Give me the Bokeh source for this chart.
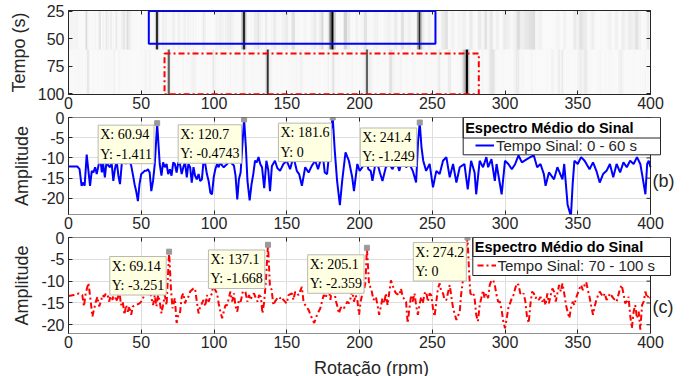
import numpy as np
from bokeh.plotting import figure
from bokeh.models import (Range1d, LinearAxis, FixedTicker, Label, Legend, LegendItem,
                          BoxAnnotation, ColumnDataSource)
from bokeh.layouts import column
from bokeh.embed import file_html
from bokeh.resources import INLINE

# ---------------- data ----------------
x_ticks = [0, 50, 100, 150, 200, 250, 300, 350, 400]
amp_ticks = [0, -5, -10, -15, -20]
time_ticks = [25, 50, 75, 100]

rpm_b = [0.0, 6.0, 7.6, 9.0, 10.2, 11.1, 12.5, 13.7, 14.8, 16.0, 17.1, 18.3, 19.4, 20.6, 21.8, 22.9,
         23.8, 25.0, 26.2, 27.3, 28.5, 29.6, 30.8, 31.9, 33.1, 34.3, 35.4, 36.6, 38.4, 39.6, 40.7,
         41.9, 43.1, 44.2, 45.4, 46.5, 47.7, 48.8, 50.0, 51.2, 52.3, 53.5, 54.6, 55.8, 56.9, 58.1,
         59.3, 60.94, 62.7, 63.9, 65.0, 66.2, 67.4, 68.5, 69.7, 70.8, 72.0, 73.1, 74.3, 75.5, 76.6,
         77.8, 78.9, 80.1, 81.3, 82.4, 83.6, 84.7, 85.9, 87.0, 88.2, 89.4, 90.5, 91.7, 92.8, 94.0,
         95.1, 96.3, 97.5, 98.6, 99.8, 100.9, 102.1, 103.2, 104.4, 105.6, 106.7, 107.9, 109.0, 110.2,
         111.3, 112.5, 113.7, 114.8, 116.0, 117.1, 118.3, 119.4, 120.7, 121.9, 123.0, 124.5, 125.8,
         127.0, 128.2, 129.4, 130.6, 131.8, 133.0, 134.5, 136.0, 137.3, 138.5, 139.8, 141.9, 143.5,
         145.4, 147.7, 150.0, 152.3, 154.6, 156.9, 158.5, 160.4, 162.7, 165.0, 167.3, 169.6, 171.5,
         173.1, 174.7, 176.1, 177.7, 178.9, 180.0, 181.6, 183.0, 184.6, 186.5, 188.1, 190.4, 192.7,
         195.0, 196.2, 198.5, 200.1, 202.0, 204.3, 206.1, 207.7, 208.9, 210.7, 212.4, 214.0, 215.8,
         218.1, 220.4, 222.7, 225.1, 227.4, 229.7, 232.0, 234.3, 236.6, 238.9, 240.3, 241.4, 242.6,
         243.8, 245.8, 248.2, 250.5, 252.8, 255.1, 257.4, 259.7, 262.0, 264.3, 266.6, 268.9, 272.1,
         274.4, 276.7, 279.1, 280.2, 282.6, 284.9, 287.2, 288.4, 290.7, 293.0, 294.2, 297.7, 300.0,
         302.3, 304.7, 307.0, 309.3, 311.6, 315.1, 317.4, 319.8, 322.1, 324.4, 326.7, 327.9, 330.2,
         333.7, 336.0, 339.5, 340.7, 343.0, 345.3, 346.5, 347.7, 350.0, 352.3, 354.7, 358.1, 360.5,
         362.8, 365.1, 367.4, 369.8, 372.1, 374.4, 376.7, 379.1, 381.4, 383.7, 386.0, 388.4, 390.7,
         393.0, 394.2, 396.5, 397.7, 398.8, 400.0]
amp_b = [-12.1, -12.1, -12.8, -16.9, -16.1, -16.9, -9.2, -13.2, -16.9, -13.2, -13.6, -12.3, -14.0, -11.9,
         -9.8, -13.6, -11.5, -14.8, -10.7, -11.9, -12.3, -11.1, -15.7, -12.8, -10.7, -14.4, -16.5,
         -11.5, -10.3, -11.5, -9.4, -10.7, -11.9, -14.0, -16.5, -18.2, -20.7, -16.5, -14.0, -13.6,
         -13.2, -13.2, -12.8, -13.6, -18.2, -15.7, -11.5, -1.411, -11.5, -14.4, -11.1, -12.3, -11.5,
         -14.0, -12.8, -14.4, -11.1, -11.5, -13.6, -11.1, -11.5, -14.0, -12.3, -11.1, -14.8, -11.5,
         -12.3, -16.1, -12.3, -14.4, -15.3, -14.0, -15.7, -15.3, -10.7, -11.5, -14.0, -15.7, -18.6,
         -19.0, -14.8, -12.8, -11.5, -12.3, -11.1, -11.9, -12.3, -11.9, -11.5, -11.1, -10.7, -11.5,
         -11.9, -14.4, -20.3, -15.3, -13.6, -7.3, -0.4743, -7.3, -15.7, -20.5, -16.5, -14.0, -10.7,
         -11.1, -9.8, -11.5, -12.3, -17.5, -10.7, -13.0, -18.2, -12.0, -10.7, -12.5, -13.2, -11.5,
         -10.7, -12.8, -9.7, -13.2, -14.0, -16.9, -12.3, -13.6, -11.9, -10.7, -12.8, -10.7, -9.0,
         -13.6, -14.0, -9.8, -4.0, 0.0, -8.2, -15.7, -21.7, -15.7, -8.6, -10.7, -14.8, -18.2, -11.5,
         -13.2, -12.3, -9.8, -12.8, -13.2, -15.7, -11.9, -11.5, -13.6, -15.7, -12.3, -11.5, -12.8,
         -10.7, -13.2, -9.8, -12.3, -11.5, -13.2, -16.1, -5.7, -1.249, -7.3, -10.7, -13.2, -11.5,
         -17.3, -13.2, -14.0, -10.7, -9.8, -14.8, -11.5, -16.1, -12.3, -11.5, -17.8, -10.7, -13.6,
         -19.0, -10.7, -12.3, -9.8, -12.3, -10.3, -15.7, -11.5, -19.0, -10.7, -11.5, -12.8, -11.5,
         -9.4, -11.1, -10.3, -9.8, -9.4, -12.3, -11.5, -14.0, -16.9, -13.6, -15.3, -12.3, -15.3,
         -11.5, -21.5, -24.5, -16.5, -10.7, -11.5, -9.8, -10.7, -12.8, -11.1, -13.2, -16.1, -14.0,
         -13.2, -11.5, -14.8, -11.5, -13.6, -11.1, -12.3, -10.7, -11.5, -9.8, -11.5, -14.0, -19.0,
         -11.5, -10.7, -12.3]

rpm_c = [0.0, 3.7, 7.2, 9.5, 10.6, 11.8, 13.7, 15.3, 16.4, 18.8, 19.9, 21.1, 22.2, 23.4, 24.5, 25.7,
         26.9, 28.0, 29.2, 30.3, 31.5, 32.6, 33.8, 35.0, 36.1, 37.3, 38.4, 39.6, 40.7, 41.9, 43.1,
         44.2, 46.5, 48.8, 50.0, 51.2, 53.5, 54.6, 55.8, 58.1, 59.3, 60.4, 61.6, 62.7, 63.9, 65.0,
         66.2, 67.4, 69.14, 70.4, 71.5, 73.1, 74.3, 75.5, 76.6, 77.8, 78.9, 80.1, 81.3, 82.4, 83.6,
         85.9, 87.0, 88.2, 89.4, 90.5, 91.7, 92.8, 94.0, 95.1, 96.3, 97.5, 98.6, 99.8, 100.9, 102.1,
         103.2, 104.4, 105.6, 106.7, 107.9, 109.0, 110.2, 111.3, 112.5, 113.7, 114.8, 116.0, 117.1,
         118.3, 119.4, 120.6, 121.8, 122.9, 124.1, 125.2, 126.4, 127.5, 128.7, 129.9, 131.0, 132.2,
         133.3, 134.5, 135.6, 137.1, 138.4, 139.6, 140.8, 141.9, 144.2, 145.4, 146.5, 147.7, 148.8,
         150.0, 151.2, 153.5, 154.6, 155.8, 158.1, 160.4, 161.5, 162.7, 165.0, 167.3, 168.9, 170.8,
         173.1, 174.2, 175.4, 176.6, 177.7, 178.9, 180.0, 181.2, 182.3, 183.5, 184.6, 185.8, 187.0,
         188.1, 189.3, 190.4, 191.6, 192.7, 193.9, 195.0, 196.2, 197.3, 198.5, 199.7, 200.8, 202.0,
         203.1, 204.1, 205.1, 206.6, 208.0, 209.6, 211.2, 212.4, 213.5, 214.7, 215.8, 217.0, 218.1,
         219.3, 221.6, 223.9, 225.1, 227.4, 228.5, 229.7, 232.0, 233.1, 234.3, 235.5, 236.6, 237.8,
         238.9, 240.1, 241.2, 242.4, 243.5, 244.7, 245.8, 247.0, 248.2, 249.3, 250.5, 251.6, 252.8,
         253.9, 255.1, 256.2, 257.4, 258.5, 259.7, 262.0, 264.3, 266.6, 268.9, 269.8, 270.9, 272.1,
         274.2, 275.3, 276.2, 277.3, 278.2, 279.1, 280.2, 281.4, 282.6, 283.7, 284.9, 286.0, 287.2,
         288.4, 289.5, 290.7, 291.9, 293.0, 294.2, 295.3, 296.5, 297.7, 298.8, 300.0, 301.2, 302.3,
         304.7, 305.8, 307.0, 308.1, 309.3, 310.5, 311.6, 312.8, 314.0, 315.1, 316.3, 317.4, 318.6,
         319.8, 320.9, 322.1, 323.3, 324.4, 325.6, 326.7, 327.9, 329.1, 330.2, 331.4, 332.6, 333.7,
         334.9, 336.0, 337.2, 338.4, 339.5, 340.7, 341.9, 343.0, 344.2, 345.3, 346.5, 347.7, 348.8,
         351.2, 352.3, 353.5, 354.7, 355.8, 357.0, 358.1, 359.3, 360.5, 361.6, 362.8, 364.0, 365.1,
         367.4, 368.6, 369.8, 370.9, 372.1, 374.4, 376.7, 379.1, 380.2, 381.4, 382.6, 383.7, 384.9,
         386.0, 387.2, 388.4, 389.5, 390.7, 391.9, 393.0, 394.2, 395.3, 396.5, 397.7, 398.8, 400.0]
amp_c = [-13.4, -13.2, -12.8, -13.2, -15.8, -12.8, -10.4, -14.7, -18.1, -14.7, -13.6, -15.8, -14.7, -13.2,
         -13.6, -12.8, -13.2, -14.7, -12.8, -14.3, -11.7, -14.7, -13.9, -12.4, -15.5, -14.7, -17.7,
         -15.5, -17.0, -15.8, -17.7, -15.8, -15.5, -15.1, -14.7, -13.9, -12.1, -13.2, -12.1, -15.5,
         -13.2, -15.8, -13.2, -14.7, -17.4, -15.5, -13.2, -15.5, -3.251, -11.7, -16.2, -13.9, -19.6,
         -17.7, -17.4, -13.6, -12.8, -15.1, -13.9, -13.6, -12.4, -11.7, -11.7, -14.7, -17.4, -15.8,
         -15.1, -14.3, -15.8, -13.2, -14.7, -13.6, -12.8, -10.2, -12.1, -12.8, -15.1, -17.0, -18.5,
         -17.0, -15.5, -15.5, -13.9, -12.4, -14.7, -12.8, -15.8, -17.0, -14.3, -14.7, -13.2, -10.5,
         -12.8, -14.7, -13.2, -14.3, -13.2, -12.8, -13.9, -14.7, -13.2, -13.6, -17.4, -14.7, -10.2,
         -1.668, -10.9, -12.0, -15.5, -14.7, -13.6, -13.9, -13.6, -14.3, -14.7, -15.1, -13.2, -12.8,
         -14.3, -12.4, -13.2, -11.3, -14.7, -15.5, -16.6, -18.5, -19.6, -17.7, -16.2, -14.7, -13.2,
         -13.9, -12.8, -11.7, -14.3, -11.3, -9.8, -14.3, -15.5, -17.4, -16.2, -15.8, -16.2, -15.5,
         -14.7, -15.1, -13.9, -12.1, -14.7, -13.2, -14.3, -17.7, -14.7, -12.8, -12.1, -10.2, -2.359,
         -10.9, -11.7, -14.3, -13.6, -15.5, -17.7, -15.8, -13.9, -15.1, -12.8, -15.5, -9.8, -12.1,
         -12.8, -13.2, -11.7, -13.6, -14.7, -19.6, -16.2, -13.2, -14.7, -12.8, -15.5, -17.7, -15.5,
         -13.6, -15.1, -12.8, -12.4, -14.7, -12.8, -13.2, -16.2, -18.1, -14.7, -11.7, -10.5, -12.4,
         -12.8, -14.3, -14.3, -10.9, -16.2, -18.9, -17.0, -13.2, -10.2, -7.1, 0.0, -7.8, -12.8,
         -13.2, -12.8, -13.9, -17.7, -19.2, -15.5, -13.9, -12.1, -13.9, -12.8, -13.9, -10.9, -9.8,
         -9.8, -10.9, -13.2, -14.7, -14.7, -16.6, -19.2, -20.8, -18.5, -16.2, -13.9, -13.2, -11.7,
         -10.5, -10.9, -12.8, -13.2, -12.8, -14.7, -18.1, -19.6, -15.5, -12.4, -12.8, -13.9, -13.6,
         -14.3, -13.6, -14.7, -13.9, -15.5, -12.8, -15.1, -13.2, -11.7, -12.4, -14.7, -12.8, -10.9,
         -12.4, -10.5, -12.8, -15.5, -17.0, -18.5, -16.2, -14.7, -15.5, -13.9, -11.7, -10.9, -12.1,
         -10.9, -10.2, -12.1, -13.6, -15.8, -17.7, -15.8, -14.3, -13.2, -12.4, -13.6, -12.8, -14.3,
         -13.9, -12.8, -13.9, -14.7, -11.7, -10.9, -12.8, -15.1, -14.7, -13.6, -17.7, -20.8, -17.0,
         -15.5, -18.5, -17.0, -21.1, -15.5, -14.7, -12.4, -13.9, -13.2, -13.9]

tip_b_x = [60.94, 120.7, 181.6, 241.4]
tip_b_y = [-1.411, -0.4743, 0, -1.249]
tip_c_x = [69.14, 137.1, 205.1, 274.2]
tip_c_y = [-3.251, -1.668, -2.359, 0]

legend_title = "Espectro Médio do Sinal"
legend_b = "Tempo Sinal: 0 - 60 s"
legend_c = "Tempo Sinal: 70 - 100 s"

# ---------------- styling / layout ----------------
SANS = "Liberation Sans"
SERIF = "Liberation Serif"
AX = "#262626"
FW = 582            # width of the 0..400 rpm area in px
EXT = 24            # extra frame width (room for the legends past x = 400)
XMAX = 400.0
XPX = XMAX / FW     # rpm per pixel

tip_b_box = [(19.0, -1.4), (74.0, -1.3), (142.9, -0.9), (199.2, -2.1)]
tip_c_box = [(27.0, -3.9), (94.8, -2.4), (163.0, -3.5), (235.6, -0.7)]
# legend boxes in frame pixels: left, right, top, separator, bottom, glyph x
leg_box_b = (394.7, 592.0, 0.0, 20.5, 37.3, 407.0)
leg_box_c = (404.3, 602.0, 0.0, 19.0, 38.0, 408.5)


def style_axis(ax):
    ax.axis_line_color = AX
    ax.major_tick_line_color = AX
    ax.major_tick_in = 4
    ax.major_tick_out = 0
    ax.minor_tick_line_color = None
    ax.major_label_text_font = SANS
    ax.major_label_text_font_size = "16px"
    ax.major_label_text_color = AX
    ax.axis_label_text_font = SANS
    ax.axis_label_text_font_size = "18px"
    ax.axis_label_text_font_style = "normal"
    ax.axis_label_text_color = AX


def hidden_axis(ticks):
    return LinearAxis(ticker=FixedTicker(ticks=ticks), major_label_text_font_size="0px",
                      major_label_text_color=None, major_tick_in=4, major_tick_out=0,
                      major_label_standoff=0, minor_tick_line_color=None,
                      axis_line_color=AX, major_tick_line_color=AX)


def make_fig(fh, top, yr, yticks, extended):
    fw = FW + (EXT if extended else 0)
    p = figure(frame_width=fw, frame_height=fh, x_range=Range1d(0, XMAX * fw / FW), y_range=yr,
               output_backend="svg", toolbar_location=None,
               min_border_left=68, min_border_right=28 - (EXT if extended else 0) + 0,
               min_border_top=top, min_border_bottom=0,
               outline_line_color=None if extended else AX, outline_line_width=1,
               background_fill_color="white", border_fill_color="white")
    bx = p.below[0]
    ly = p.left[0]
    bx.ticker = FixedTicker(ticks=x_ticks)
    ly.ticker = FixedTicker(ticks=yticks)
    ly.major_label_overrides = {v: str(v) for v in yticks}
    style_axis(bx)
    style_axis(ly)
    bx.major_label_standoff = 2
    ly.major_label_standoff = 4
    ly.axis_label_standoff = 6
    top_ax = hidden_axis(x_ticks)
    p.add_layout(top_ax, "above")
    if extended:
        bx.axis_line_color = None
        top_ax.axis_line_color = None
        p.grid.grid_line_color = "#dedede"
        p.grid.grid_line_width = 1
        # white cover past x = 400 (hides grid there), then the axes box
        p.add_layout(BoxAnnotation(left=XMAX, fill_color="white", fill_alpha=1, line_color=None,
                                   level="underlay"))
        p.add_layout(BoxAnnotation(left=0, right=XMAX, bottom=yr.start, top=yr.end,
                                   fill_alpha=0, line_color=AX, line_alpha=1, line_width=1))
        n = len(yticks)
        p.segment(x0=[XMAX] * n, x1=[XMAX - 4 * XPX] * n, y0=yticks, y1=yticks,
                  line_color=AX, line_width=1)
    else:
        p.add_layout(hidden_axis(yticks), "right")
        p.grid.visible = False
    return p


def heat_rows(rpm, amp, t0, t1):
    r = np.asarray(rpm, float)
    a = np.asarray(amp, float)
    mids = (r[1:] + r[:-1]) / 2
    left = np.concatenate([[r[0]], mids])
    right = np.concatenate([mids, [r[-1]]])
    v = np.clip((a + 14.0) / 14.0, 0, 1) ** 2
    g = np.clip(255 * (1 - v) - 6, 0, 255).round().astype(int)
    colors = ["#%02x%02x%02x" % (k, k, k) for k in g]
    n = len(r)
    return dict(left=left, right=right, top=[t0] * n, bottom=[t1] * n, color=colors)


# ---- panel (a) ----
p1 = make_fig(84, 10, Range1d(100.5, 24.5), time_ticks, extended=False)
p1.left[0].axis_label = "Tempo (s)"
for rows in (heat_rows(rpm_b, amp_b, 24.5, 60.0), heat_rows(rpm_c, amp_c, 60.0, 100.5)):
    p1.quad(left="left", right="right", top="top", bottom="bottom", fill_color="color",
            line_color="color", line_width=0.3, source=ColumnDataSource(rows))
p1.add_layout(BoxAnnotation(left=55.2, right=252.2, top=25.0, bottom=54.5, fill_alpha=0,
                            line_color="#0000ff", line_alpha=1, line_width=2))
p1.add_layout(BoxAnnotation(left=66.0, right=282.0, top=63.5, bottom=100.2, fill_alpha=0,
                            line_color="#ff0000", line_alpha=1, line_width=2, line_dash="6 3 2 3"))
p1.add_layout(Label(x=400, y=53.3, x_offset=2, text="(a)", text_font=SANS, text_font_size="18px",
                    text_baseline="middle", text_color=AX))


def spectrum_panel(p, yr, rpm, amp, tx, ty, boxes, color, dash, leg_label, lb, side_y, side_txt):
    fh = p.frame_height
    ypx = (yr.end - yr.start) / fh
    r = p.line(rpm, amp, line_color=color, line_width=2, line_dash=dash)
    p.scatter(tx, ty, marker="square", size=5, color="#9a9a9a")
    for (bx, by), x, y in zip(boxes, tx, ty):
        p.add_layout(Label(x=bx, y=by, x_offset=2, y_offset=-2, text=f"X: {x:g}\nY: {y:g}",
                           text_font=SERIF, text_font_size="14px", text_color="black",
                           text_align="left", text_baseline="top", text_line_height=1.3,
                           background_fill_color="#ffffe1", border_line_color="#b8b8b8",
                           padding=2))
    left, right, top, sep, bottom, gx = lb
    X = lambda px: px * XPX
    Y = lambda px: yr.end - px * ypx
    p.add_layout(BoxAnnotation(left=X(left), right=X(right), top=Y(top), bottom=Y(bottom),
                               fill_color="white", fill_alpha=1, line_color=AX, line_alpha=1,
                               line_width=1))
    p.add_layout(BoxAnnotation(left=X(left), right=X(right), top=Y(top), bottom=Y(sep),
                               fill_alpha=0, line_color=AX, line_alpha=1, line_width=1))
    p.add_layout(Label(x=X(left), y=Y((top + sep) / 2), x_offset=2, text=legend_title,
                       text_font=SANS, text_font_size="14.5px", text_font_style="bold",
                       text_color="black", text_baseline="middle"))
    row_mid = (sep + bottom) / 2
    leg = Legend(items=[LegendItem(label=leg_label, renderers=[r])],
                 location=(gx, fh - row_mid - 8),
                 label_text_font=SANS, label_text_font_size="15px", label_text_color=AX,
                 border_line_color=None, background_fill_alpha=0,
                 padding=0, margin=0, spacing=0, label_height=16, glyph_height=16,
                 glyph_width=19, label_standoff=2)
    p.add_layout(leg, "center")
    p.add_layout(Label(x=XMAX, y=side_y, x_offset=2, text=side_txt, text_font=SANS,
                       text_font_size="18px", text_baseline="middle", text_color=AX))


# ---- panel (b) ----
yr_b = Range1d(-24, 0)
p2 = make_fig(97, 6, yr_b, amp_ticks, extended=True)
p2.left[0].axis_label = "Amplitude"
spectrum_panel(p2, yr_b, rpm_b, amp_b, tip_b_x, tip_b_y, tip_b_box, "#0000ff", "solid",
               legend_b, leg_box_b, -15.8, "(b)")

# ---- panel (c) ----
yr_c = Range1d(-22, 0)
p3 = make_fig(96, 6, yr_c, amp_ticks, extended=True)
p3.left[0].axis_label = "Amplitude"
p3.below[0].axis_label = "Rotação (rpm)"
p3.below[0].axis_label_standoff = 7
spectrum_panel(p3, yr_c, rpm_c, amp_c, tip_c_x, tip_c_y, tip_c_box, "#ff0000", "6 3 2 3",
               legend_c, leg_box_c, -15.9, "(c)")

layout = column(p1, p2, p3, spacing=0)
open("out.html", "w").write(file_html(layout, INLINE))
